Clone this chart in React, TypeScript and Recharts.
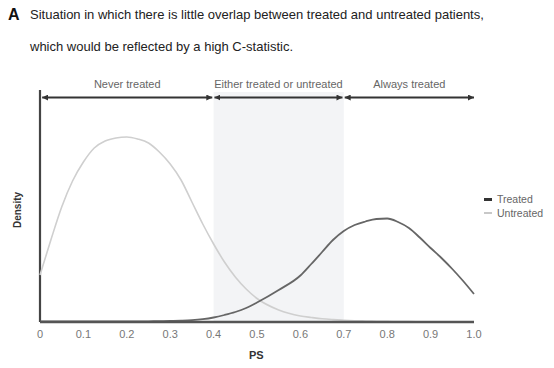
import { LineChart, Line, XAxis, YAxis, ReferenceArea, ReferenceLine } from 'recharts';

const ps = [
  0, 0.025, 0.05, 0.075, 0.1, 0.125, 0.15, 0.175, 0.2, 0.225, 0.25, 0.275, 0.3, 0.325, 0.35, 0.375, 0.4, 0.425, 0.45,
  0.475, 0.5, 0.55, 0.6, 0.625, 0.65, 0.675, 0.7, 0.725, 0.75, 0.775, 0.8, 0.825, 0.85, 0.875, 0.9, 0.925, 0.95, 0.975, 1.0,
];
const untreated = [
  0.47, 0.82, 1.15, 1.41, 1.6, 1.74, 1.81, 1.84, 1.85, 1.83, 1.79, 1.7, 1.58, 1.42, 1.2, 0.98, 0.78, 0.6, 0.45,
  0.33, 0.235, 0.12, 0.06, 0.045, 0.032, 0.024, 0.018, 0.013, 0.01, 0.008, 0.006, 0.005, 0.004, 0.003, 0.003, 0.002, 0.002, 0.002, 0.002,
];
const treated = [
  0.006, 0.006, 0.006, 0.006, 0.006, 0.006, 0.006, 0.006, 0.006, 0.006, 0.007, 0.008, 0.01, 0.013, 0.018, 0.028, 0.045, 0.07, 0.1,
  0.14, 0.195, 0.32, 0.465, 0.58, 0.7, 0.82, 0.91, 0.97, 1.005, 1.03, 1.035, 1.0, 0.94, 0.845, 0.74, 0.64, 0.53, 0.41, 0.28,
];
const xTicks = [0, 0.1, 0.2, 0.3, 0.4, 0.5, 0.6, 0.7, 0.8, 0.9, 1.0];

const zones = [
  { from: 0.005, to: 0.397, label: 'Never treated' },
  { from: 0.402, to: 0.697, label: 'Either treated or untreated' },
  { from: 0.702, to: 1.0, label: 'Always treated' },
];

const data = ps.map((x, i) => ({ ps: x, untreated: untreated[i], treated: treated[i] }));

const font = '"Liberation Sans", Arial, sans-serif';

export default function App() {
  return (
    <div style={{ position: 'absolute', left: 0, top: 0, width: 554, height: 368, background: '#fff', fontFamily: font }}>
      <div style={{ position: 'absolute', left: 8, top: 6, fontSize: 16, fontWeight: 'bold', color: '#111' }}>A</div>
      <div style={{ position: 'absolute', left: 30, top: 7, fontSize: 13, color: '#222', whiteSpace: 'nowrap' }}>
        Situation in which there is little overlap between treated and untreated patients,
      </div>
      <div style={{ position: 'absolute', left: 30, top: 39, fontSize: 13, color: '#222', whiteSpace: 'nowrap' }}>
        which would be reflected by a high C-statistic.
      </div>

      <LineChart width={554} height={368} data={data} margin={{ top: 90, right: 80, left: 40, bottom: 0 }}>
        <defs>
          <marker id="arrowEnd" viewBox="0 0 6 6" refX="6" refY="3" markerWidth="6" markerHeight="6" markerUnits="userSpaceOnUse" orient="auto">
            <path d="M0,0 L6,3 L0,6 z" fill="#333" />
          </marker>
          <marker id="arrowStart" viewBox="0 0 6 6" refX="6" refY="3" markerWidth="6" markerHeight="6" markerUnits="userSpaceOnUse" orient="auto-start-reverse">
            <path d="M0,0 L6,3 L0,6 z" fill="#333" />
          </marker>
        </defs>
        <ReferenceArea x1={0.4} x2={0.7} y1={0} y2={2.3} fill="#f3f4f6" fillOpacity={1} stroke="none" />
        <XAxis
          dataKey="ps"
          type="number"
          domain={[0, 1]}
          ticks={xTicks}
          tickFormatter={(v: number) => (v === 0 ? '0' : v.toFixed(1))}
          tickLine={false}
          axisLine={{ stroke: '#555', strokeWidth: 2.5 }}
          tick={{ fill: '#777', fontSize: 11, fontFamily: font }}
          height={46}
          interval={0}
        />
        <YAxis type="number" domain={[0, 2.32]} hide />
        <ReferenceLine
          segment={[{ x: 0, y: 0 }, { x: 0, y: 2.32 }]}
          stroke="#444"
          strokeWidth={2.2}
          ifOverflow="visible"
        />
        {zones.map((z) => (
          <ReferenceLine
            key={z.label}
            segment={[{ x: z.from, y: 2.245 }, { x: z.to, y: 2.245 }]}
            stroke="#333"
            strokeWidth={2}
            markerStart="url(#arrowStart)"
            markerEnd="url(#arrowEnd)"
            label={{ value: z.label, position: 'top', offset: 10, fill: '#666', fontSize: 11, fontFamily: font }}
          />
        ))}
        <Line
          type="monotone"
          dataKey="untreated"
          stroke="#cfcfcf"
          strokeWidth={1.6}
          dot={false}
          isAnimationActive={false}
        />
        <Line
          type="monotone"
          dataKey="treated"
          stroke="#666"
          strokeWidth={1.8}
          dot={false}
          isAnimationActive={false}
        />
      </LineChart>

      <div style={{ position: 'absolute', left: 249, top: 349, fontSize: 11, fontWeight: 'bold', color: '#333' }}>PS</div>
      <div
        style={{
          position: 'absolute',
          left: 17,
          top: 210,
          fontSize: 10,
          fontWeight: 'bold',
          color: '#333',
          transform: 'translate(-50%, -50%) rotate(-90deg)',
          whiteSpace: 'nowrap',
        }}
      >
        Density
      </div>

      <div style={{ position: 'absolute', left: 484, top: 192, fontSize: 10.5, color: '#666', lineHeight: '14px' }}>
        <div style={{ display: 'flex', alignItems: 'center' }}>
          <span style={{ display: 'inline-block', width: 8, height: 3, background: '#333', marginRight: 5 }} />
          Treated
        </div>
        <div style={{ display: 'flex', alignItems: 'center' }}>
          <span style={{ display: 'inline-block', width: 8, height: 2, background: '#c8c8c8', marginRight: 5 }} />
          Untreated
        </div>
      </div>
    </div>
  );
}
